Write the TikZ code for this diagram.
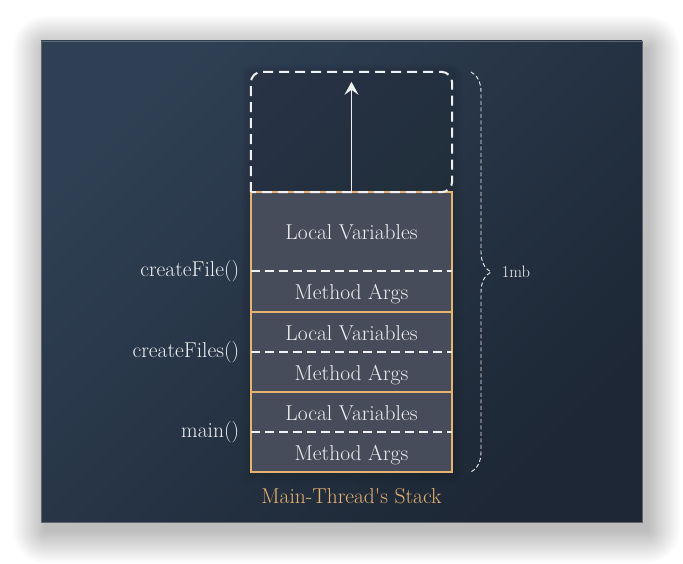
\documentclass[tikz,border=0pt]{standalone}
\usetikzlibrary{arrows.meta,decorations.pathreplacing}

\definecolor{bgtop}{HTML}{2F4054}
\definecolor{bgbot}{HTML}{1D2735}
\definecolor{cellfill}{HTML}{474C5B}
\definecolor{stackline}{HTML}{E8B270}
\definecolor{txt}{HTML}{F0F0F0}
\newcommand{\lblfont}{\fontsize{21.5}{25}\selectfont}

\tikzset{
  cell/.style={minimum width=201pt, inner sep=0pt, fill=cellfill, text=txt, font=\lblfont, text height=17pt, text depth=1pt},
  frameline/.style={draw=stackline, line width=2pt},
  divider/.style={draw=txt, line width=1.8pt, dash pattern=on 9pt off 5pt},
  fname/.style={anchor=east, text=txt, font=\lblfont},
}

\begin{document}
\begin{tikzpicture}[x=1pt,y=-1pt]

\fill[white] (0,0) rectangle (683,564);
\useasboundingbox (0,0) rectangle (683,564);

\foreach \i in {1,...,22}
  \fill[black, opacity=0.011, rounded corners=\i*1.5pt] (46-1.5*\i,49-1.5*\i) rectangle (647+1.5*\i,530+1.5*\i);
\shade[top color=bgtop, bottom color=bgbot, shading angle=45] (41,41) rectangle (642,522);
\draw[gray!60!bgtop, line width=0.8pt] (41,41) rectangle (642,522);

\foreach \i in {1,...,5}
  \fill[black, opacity=0.02, rounded corners=\i*2pt] (251-2*\i,72-1.5*\i) rectangle (452+2*\i,472+2.5*\i);

\node[cell, minimum height=79pt] (lv3) at (351.5,231.5) {Local Variables};
\node[cell, minimum height=41pt] (ma3) at (351.5,291.5) {Method Args};
\node[cell, minimum height=40pt] (lv2) at (351.5,332) {Local Variables};
\node[cell, minimum height=40pt] (ma2) at (351.5,372) {Method Args};
\node[cell, minimum height=40pt] (lv1) at (351.5,412) {Local Variables};
\node[cell, minimum height=40pt] (ma1) at (351.5,452) {Method Args};

\draw[frameline] (lv3.north west) rectangle (ma3.south east);
\draw[frameline] (lv2.north west) rectangle (ma2.south east);
\draw[frameline] (lv1.north west) rectangle (ma1.south east);

\draw[divider] (lv3.south west) -- (lv3.south east);
\draw[divider] (lv2.south west) -- (lv2.south east);
\draw[divider] (lv1.south west) -- (lv1.south east);

\node[fname] (f3) at ([xshift=-8pt]lv3.south west) {createFile()};
\node[fname] (f2) at ([xshift=-8pt]lv2.south west) {createFiles()};
\node[fname] (f1) at ([xshift=-8pt]lv1.south west) {main()};

\node[minimum width=201pt, minimum height=120pt, inner sep=0pt] (free) at (351.5,132) {};
\draw[txt, line width=2pt, dash pattern=on 10pt off 6pt] (free.south west) [rounded corners=11pt] |- (free.north) -| (free.south east) [sharp corners] -- cycle;
\draw[txt, line width=1.6pt, -{Stealth[length=13pt,width=14pt,inset=5pt]}, shorten >=10pt] (free.south) -- (free.north);

\node[text=stackline, font=\lblfont] (title) at (351.5,496) {Main-Thread\textquotesingle s Stack};

\coordinate (btop) at (471,72);
\coordinate (bbot) at (471,472);
\draw[txt, line width=0.9pt, dash pattern=on 4pt off 2.5pt, decorate, decoration={brace, amplitude=20pt}] (btop) -- (bbot)
  node[midway, anchor=west, xshift=27pt, text=txt, font=\fontsize{16.5}{19}\selectfont] (size) {1mb};

\end{tikzpicture}
\end{document}
